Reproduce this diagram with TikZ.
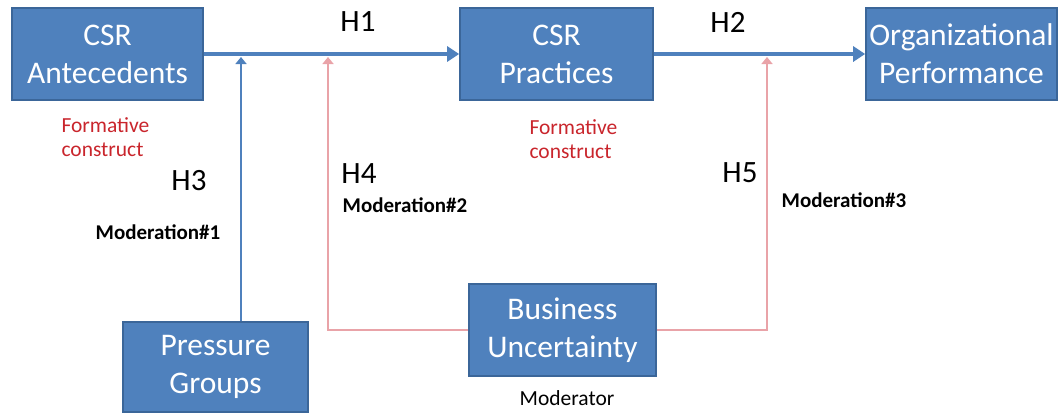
\documentclass[tikz,border=0pt]{standalone}
\usepackage{fontspec}
\setmainfont{Carlito}
\usetikzlibrary{arrows.meta}
\usepackage{xcolor}
\definecolor{boxblue}{HTML}{4F81BD}
\definecolor{boxedge}{HTML}{3B6699}
\definecolor{modpink}{HTML}{E9A3A8}
\definecolor{formred}{HTML}{C9252C}

\begin{document}
\begin{tikzpicture}[x=1pt,y=-1pt,line cap=butt,
  box/.style={draw=boxedge,line width=1.6pt,fill=boxblue,text=white,align=center,
    inner sep=0pt,font=\fontsize{31.5}{38}\selectfont},
  hyp/.style={font=\fontsize{31}{36}\selectfont},
  modlab/.style={font=\bfseries\fontsize{21}{24}\selectfont},
  formlab/.style={text=formred,align=left,font=\fontsize{21.5}{24}\selectfont},
  mainline/.style={draw=boxblue,line width=3.5pt,-{Triangle[length=12pt,width=15pt]}},
  modblue/.style={draw=boxblue,line width=1.6pt,-{Triangle[length=7pt,width=11pt]}},
  modred/.style={draw=modpink,line width=1.6pt,-{Triangle[length=7pt,width=11pt]}}]
\useasboundingbox (0,0) rectangle (1060,413);
% constructs
\node[box,minimum width=191pt,minimum height=92pt] (ante) at (107.5,54) {CSR\\Antecedents};
\node[box,minimum width=193pt,minimum height=92pt] (prac) at (556.5,54) {CSR\\Practices};
\node[box,minimum width=191pt,minimum height=92pt] (perf) at (961.5,54) {Organizational\\Performance};
\node[box,minimum width=185pt,minimum height=90pt] (press) at (215.5,367) {Pressure\\Groups};
\node[box,minimum width=187pt,minimum height=92pt] (unc) at (562.5,330) {Business\\Uncertainty};
% moderation points on the paths
\coordinate (m1) at (241,57);
\coordinate (m2) at (328,57);
\coordinate (m3) at (767,57);
% paths
\draw[mainline] (ante.east) -- (prac.west);
\draw[mainline] (prac.east) -- (perf.west);
\draw[modblue] (press.north -| m1) -- (m1);
\draw[modred] (unc.west) -- (unc.west -| m2) -- (m2);
\draw[modred] (unc.east) -- (unc.east -| m3) -- (m3);
% labels
\node[hyp] (h1) at (358,22) {H1};
\node[hyp] (h2) at (728,22) {H2};
\node[hyp] (h3) at (189,181) {H3};
\node[hyp] (h4) at (359,174) {H4};
\node[hyp] (h5) at (740,173) {H5};
\node[modlab] (mod1) at (158,232) {Moderation\#1};
\node[modlab] (mod2) at (405,205) {Moderation\#2};
\node[modlab] (mod3) at (844,200) {Moderation\#3};
\node[formlab,anchor=west] (form1) at (58,137) {Formative\\construct};
\node[formlab,anchor=west] (form2) at (526,139) {Formative\\construct};
\node[font=\fontsize{21.5}{24}\selectfont] (moder) at (567,398) {Moderator};
\end{tikzpicture}
\end{document}
